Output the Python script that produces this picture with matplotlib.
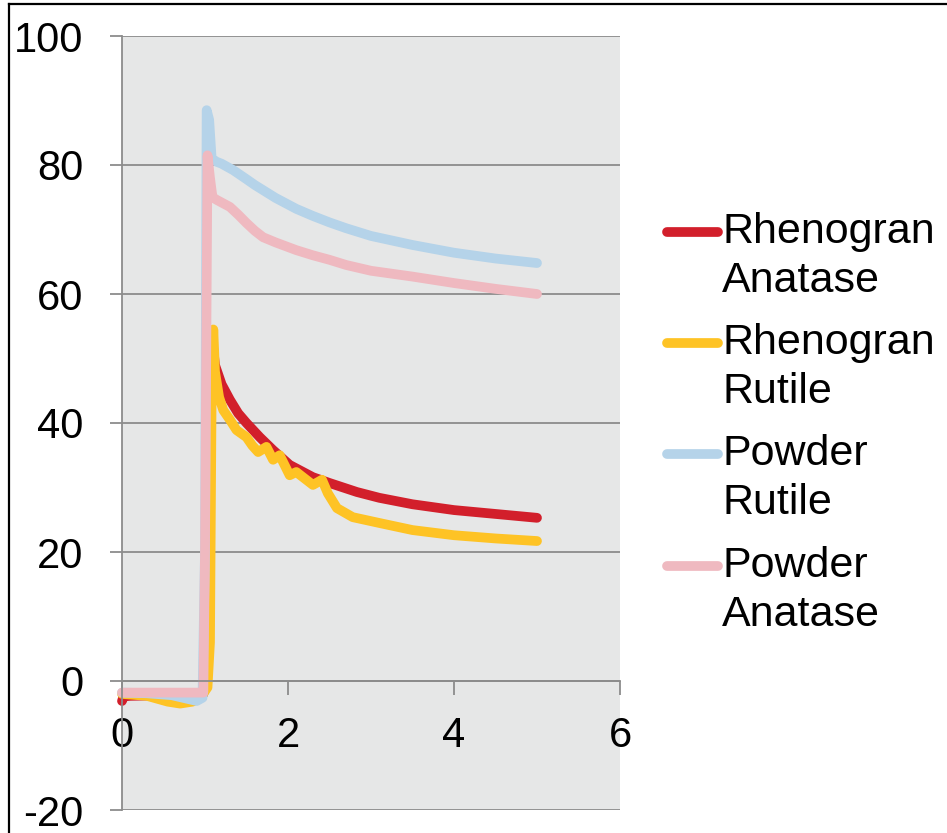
import matplotlib
matplotlib.use("Agg")
import matplotlib.pyplot as plt
from matplotlib.lines import Line2D

plt.rcParams['font.family'] = ['Liberation Sans', 'DejaVu Sans']
plt.rcParams['axes.unicode_minus'] = False

# ---- data ----
series_names = ["Rhenogran\nAnatase", "Rhenogran\nRutile", "Powder\nRutile", "Powder\nAnatase"]
series_colors = ["#D21F2B", "#FEC325", "#B5D3E9", "#EFB9C0"]

red_x = [0, 0.02, 0.1, 0.5, 0.9, 0.98, 1.04, 1.06, 1.08, 1.12, 1.2, 1.3, 1.4, 1.5,
         1.66, 1.82, 2.02, 2.3, 2.5, 2.83, 3.1, 3.5, 4.0, 4.5, 5.0]
red_y = [-3.1, -2.4, -2.3, -2.2, -2.2, -2.0, 10, 40, 54, 49, 46, 43.6, 41.5, 40,
         37.8, 35.8, 33.5, 31.6, 30.7, 29.3, 28.4, 27.4, 26.5, 25.9, 25.3]

yel_x = [0, 0.3, 0.55, 0.7, 0.85, 0.95, 1.03, 1.06, 1.08, 1.1, 1.12, 1.17, 1.22, 1.3,
         1.38, 1.5, 1.57, 1.64, 1.74, 1.82, 1.9, 2.02, 2.1, 2.18, 2.3, 2.41, 2.48,
         2.59, 2.78, 3.1, 3.5, 4.0, 4.5, 5.0]
yel_y = [-2.0, -2.3, -3.2, -3.5, -3.2, -2.5, -1.0, 6, 45, 54.5, 48, 44, 42, 40.5,
         38.9, 37.8, 36.5, 35.5, 36.3, 34.3, 35.0, 31.9, 32.4, 31.6, 30.4, 31.2, 29.1,
         26.8, 25.4, 24.5, 23.4, 22.6, 22.1, 21.7]

blu_x = [0, 0.3, 0.6, 0.8, 0.9, 0.97, 1.0, 1.02, 1.05, 1.08, 1.14, 1.2, 1.34, 1.5,
         1.6, 1.7, 1.85, 2.1, 2.3, 2.5, 2.7, 2.9, 3.0, 3.5, 4.0, 4.5, 5.0]
blu_y = [-1.8, -1.9, -2.2, -2.8, -3.1, -2.6, 20, 88.5, 87, 81, 80.5, 80.2, 79.2, 77.8,
         76.9, 76.1, 74.9, 73.2, 72.1, 71.1, 70.2, 69.4, 69.0, 67.6, 66.4, 65.5, 64.8]

pnk_x = [0, 0.5, 0.98, 1.0, 1.03, 1.06, 1.09, 1.14, 1.3, 1.4, 1.5, 1.6, 1.7, 1.85,
         2.1, 2.3, 2.5, 2.7, 2.9, 3.0, 3.5, 4.0, 4.5, 5.0]
pnk_y = [-1.8, -1.8, -1.8, 20, 81.5, 78, 75, 74.6, 73.5, 72.3, 71.0, 69.8, 68.8, 68.0,
         66.8, 66.0, 65.3, 64.5, 63.9, 63.6, 62.7, 61.7, 60.8, 60.0]

x_ticks = [0, 2, 4, 6]
y_ticks = [-20, 0, 20, 40, 60, 80, 100]

W, H = 947, 833
fig = plt.figure(figsize=(W / 100, H / 100), dpi=100)
fig.patch.set_facecolor("white")

ax = fig.add_axes([122 / W, (H - 810) / H, (620 - 122) / W, (810 - 36) / H])
ax.set_facecolor("#E6E7E7")

grid_c = "#8C8C8C"
ax.set_xlim(0, 6)
ax.set_ylim(-20, 100)
ax.set_xticks(x_ticks)
ax.set_yticks(y_ticks)
ax.yaxis.grid(True, color=grid_c, lw=1.3)
ax.set_axisbelow(True)

for s in ["top", "right"]:
    ax.spines[s].set_visible(False)
ax.spines["left"].set_color(grid_c)
ax.spines["left"].set_linewidth(1.3)
ax.spines["bottom"].set_position(("data", 0))
ax.spines["bottom"].set_color(grid_c)
ax.spines["bottom"].set_linewidth(1.3)

ax.tick_params(axis="y", direction="out", length=8.6, width=1.3, color=grid_c,
               labelsize=30, pad=19)
ax.tick_params(axis="x", direction="out", length=10, width=1.3, color=grid_c,
               labelsize=30, pad=15)

LW = 7
data = [(red_x, red_y), (yel_x, yel_y), (blu_x, blu_y), (pnk_x, pnk_y)]
for (xs, ys), c, n in zip(data, series_colors, series_names):
    ax.plot(xs, ys, color=c, lw=LW, solid_capstyle="round", solid_joinstyle="round",
            label=n, clip_on=False)

# manual legend (handle aligned with first text line)
leg_line_y = [232, 343, 454, 566]
for yy, c, n in zip(leg_line_y, series_colors, series_names):
    fy = 1 - yy / H
    fig.add_artist(Line2D([667 / W, 718 / W], [fy, fy], color=c, lw=LW,
                          solid_capstyle="round", transform=fig.transFigure))
    fig.text(722 / W, 1 - (yy - 20) / H, n, fontsize=31, ha="left", va="top",
             linespacing=1.3)

# figure frame (top and left edges visible)
fig.add_artist(Line2D([9 / W, 9 / W], [1 - 4 / H, 0], color="black", lw=1.6,
                      transform=fig.transFigure))
fig.add_artist(Line2D([9 / W, 1], [1 - 4 / H, 1 - 4 / H], color="black", lw=1.6,
                      transform=fig.transFigure))

fig.savefig("out.png", dpi=100)
